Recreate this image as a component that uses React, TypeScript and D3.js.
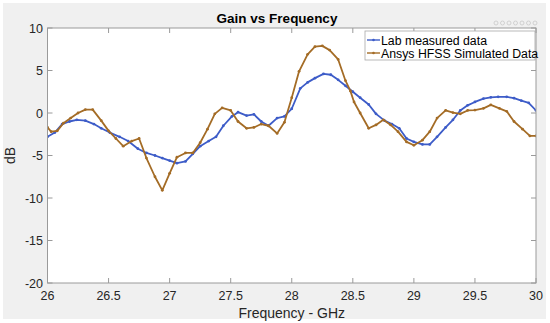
import React from "react";
import * as d3 from "d3";

const labFreq = [26.00,26.06,26.12,26.18,26.24,26.31,26.38,26.44,26.51,26.59,26.66,26.74,26.81,26.88,26.94,27.00,27.06,27.13,27.19,27.25,27.32,27.38,27.44,27.51,27.56,27.63,27.69,27.75,27.81,27.88,27.94,28.00,28.07,28.13,28.19,28.26,28.32,28.38,28.44,28.50,28.56,28.63,28.69,28.76,28.82,28.88,28.94,29.00,29.07,29.13,29.19,29.26,29.32,29.38,29.44,29.50,29.57,29.63,29.69,29.76,29.82,29.88,29.94,30.00];
const labGain = [-2.8,-2.3,-1.3,-1.0,-0.8,-0.9,-1.3,-1.8,-2.3,-2.8,-3.3,-4.2,-4.7,-5.0,-5.3,-5.6,-5.9,-5.7,-4.8,-3.9,-3.3,-2.8,-1.5,-0.4,0.1,-0.3,-0.15,-1.0,-1.5,-0.6,-0.4,0.5,2.9,3.6,4.1,4.6,4.5,3.9,3.2,2.5,1.8,1.0,-0.1,-0.9,-1.3,-1.8,-3.0,-3.4,-3.7,-3.7,-2.8,-1.7,-0.8,0.3,0.9,1.3,1.7,1.85,1.9,1.9,1.75,1.45,1.2,0.3];

const simFreq = [26.00,26.03,26.08,26.13,26.19,26.25,26.31,26.37,26.44,26.50,26.56,26.62,26.69,26.75,26.81,26.88,26.94,27.00,27.06,27.13,27.19,27.25,27.31,27.37,27.43,27.50,27.56,27.63,27.69,27.75,27.81,27.88,27.94,28.00,28.06,28.13,28.19,28.25,28.31,28.38,28.44,28.48,28.51,28.56,28.63,28.69,28.75,28.81,28.87,28.94,29.00,29.07,29.13,29.19,29.26,29.32,29.38,29.44,29.50,29.57,29.63,29.70,29.76,29.82,29.89,29.95,30.00];
const simGain = [-1.7,-2.2,-2.1,-1.2,-0.6,0.0,0.4,0.4,-0.9,-2.1,-3.0,-3.9,-3.3,-3.0,-5.3,-7.5,-9.1,-7.1,-5.2,-4.7,-4.7,-3.5,-1.9,-0.1,0.6,0.3,-1.0,-1.8,-1.7,-1.3,-1.5,-2.4,-1.1,1.8,4.9,6.9,7.8,7.9,7.4,6.3,3.8,2.6,1.3,0.0,-1.8,-1.4,-0.8,-1.4,-2.2,-3.4,-3.8,-3.2,-2.2,-0.6,0.3,0.05,-0.1,0.3,0.35,0.55,0.95,0.55,0.2,-1.0,-1.9,-2.7,-2.7];

const xTicks = [26, 26.5, 27, 27.5, 28, 28.5, 29, 29.5, 30];
const yTicks = [10, 5, 0, -5, -10, -15, -20];
const seriesNames = ["Lab measured data", "Ansys HFSS Simulated Data"];

const W = 550, H = 323;
const L = 47.5, R = 536, T = 28, B = 283;
const BLUE = "#3d5cc8";
const ORANGE = "#a46c26";
const FONT = "'Liberation Sans', Arial, Helvetica, sans-serif";

export default function App() {
  const x = d3.scaleLinear().domain([26, 30]).range([L, R]);
  const y = d3.scaleLinear().domain([-20, 10]).range([B, T]);
  const line = d3.line<[number, number]>().x(d => x(d[0])).y(d => y(d[1]));
  const lab: [number, number][] = labFreq.map((f, i) => [f, labGain[i]]);
  const sim: [number, number][] = simFreq.map((f, i) => [f, simGain[i]]);
  const fmt = (v: number) => (v < 0 ? "-" + Math.abs(v) : String(v));

  const series = [
    { data: lab, color: BLUE },
    { data: sim, color: ORANGE },
  ];

  return (
    <svg width={W} height={H} style={{ position: "absolute", left: 0, top: 0 }} fontFamily={FONT}>
      <rect x={0} y={0} width={W} height={H} fill="#ffffff" />
      <rect x={3} y={3} width={543} height={316} fill="#f0f0f0" />
      <rect x={L} y={T} width={R - L} height={B - T} fill="#ffffff" />

      {/* toolbar glyphs */}
      <g fill="none" stroke="#c4c4c4" strokeWidth={0.7}>
        {[0, 1, 2, 3, 4, 5, 6].map(i => (
          <circle key={i} cx={496 + i * 6.5} cy={23} r={2} />
        ))}
      </g>

      <text x={277} y={23} textAnchor="middle" fontSize={13.5} fontWeight="bold" fill="#000">Gain vs Frequency</text>

      {/* series */}
      <g clipPath="url(#clip)">
        {series.map((s, si) => (
          <g key={si}>
            <path d={line(s.data) || ""} fill="none" stroke={s.color} strokeWidth={1.8} strokeLinejoin="round" />
            {s.data.map((d, i) => (
              <circle key={i} cx={x(d[0])} cy={y(d[1])} r={1.4} fill={s.color} />
            ))}
          </g>
        ))}
      </g>
      <defs>
        <clipPath id="clip">
          <rect x={L} y={T} width={R - L} height={B - T} />
        </clipPath>
      </defs>

      {/* axes box */}
      <rect x={L} y={T} width={R - L} height={B - T} fill="none" stroke="#9a9a9a" strokeWidth={1} />
      {xTicks.map(t => (
        <g key={"x" + t}>
          <line x1={x(t)} x2={x(t)} y1={B} y2={B - 5} stroke="#9a9a9a" />
          <line x1={x(t)} x2={x(t)} y1={T} y2={T + 5} stroke="#9a9a9a" />
          <text x={x(t)} y={300} textAnchor="middle" fontSize={12.5} fill="#262626">{t}</text>
        </g>
      ))}
      {yTicks.map(t => (
        <g key={"y" + t}>
          <line x1={L} x2={L + 5} y1={y(t)} y2={y(t)} stroke="#9a9a9a" />
          <line x1={R} x2={R - 5} y1={y(t)} y2={y(t)} stroke="#9a9a9a" />
          <text x={43} y={y(t) + 4.5} textAnchor="end" fontSize={12.5} fill="#262626">{fmt(t)}</text>
        </g>
      ))}

      <text x={(L + R) / 2} y={318} textAnchor="middle" fontSize={14} fill="#262626">Frequency - GHz</text>
      <text transform={`translate(15,${(T + B) / 2}) rotate(-90)`} textAnchor="middle" fontSize={14} fill="#262626">dB</text>

      {/* legend */}
      <rect x={365} y={31} width={170} height={29} fill="#ffffff" stroke="#a8a8a8" strokeWidth={0.8} />
      {seriesNames.map((n, i) => (
        <g key={n}>
          <line x1={367} x2={380} y1={40 + i * 13} y2={40 + i * 13} stroke={i === 0 ? BLUE : ORANGE} strokeWidth={1.4} />
          <circle cx={373.5} cy={40 + i * 13} r={1.3} fill={i === 0 ? BLUE : ORANGE} />
          <text x={381} y={44.5 + i * 13} fontSize={12.3} fill="#000">{n}</text>
        </g>
      ))}
    </svg>
  );
}
